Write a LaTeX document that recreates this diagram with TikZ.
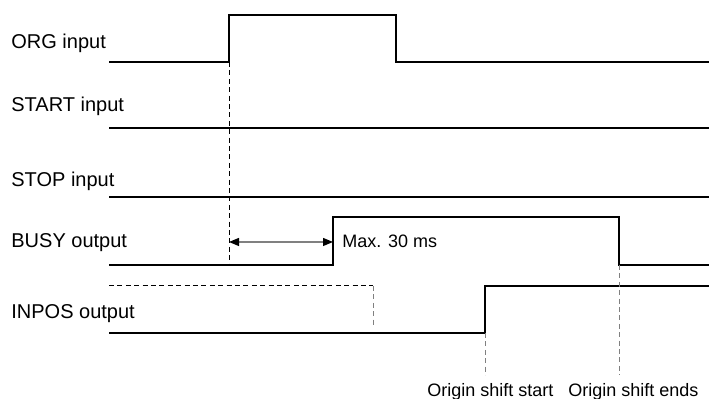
\documentclass[tikz,border=0pt]{standalone}
\usepackage{fontspec}
\setmainfont{Liberation Sans}
\usetikzlibrary{arrows.meta}

\begin{document}
\begin{tikzpicture}[x=0.5pt,y=-0.5pt,
    signal/.style={line width=1.3pt,line join=miter},
    guide/.style={line width=0.5pt,dash pattern=on 2.5pt off 1.7pt},
    lbl/.style={anchor=base west,inner sep=0pt,font=\fontsize{10}{12}\selectfont},
    note/.style={anchor=base west,inner sep=0pt,font=\fontsize{9}{11}\selectfont}]
    \useasboundingbox (0,0) rectangle (709,399);
    % signal names
    \node[lbl] (org) at (11,49) {ORG input};
    \node[lbl] (start) at (11,112) {START input};
    \node[lbl] (stop) at (11,187) {STOP input};
    \node[lbl] (busy) at (11,248) {BUSY output};
    \node[lbl] (inpos) at (11,319) {INPOS output};
    % waveforms
    \draw[signal] (109,62) -- (229,62) -- (229,15) -- (396,15) -- (396,62) -- (709,62);
    \draw[signal] (109,128) -- (709,128);
    \draw[signal] (109,197) -- (709,197);
    \draw[signal] (109,265) -- (333,265) -- (333,217) -- (619,217) -- (619,265) -- (709,265);
    \draw[signal] (109,333) -- (485,333) -- (485,286) -- (709,286);
    % guides
    \draw[guide] (229,62) -- (229,265);
    \draw[guide] (109,286) -- (373,286);
    \draw[guide,gray] (373,286) -- (373,327);
    \draw[guide,gray] (485,333) -- (485,375);
    \draw[guide,gray] (619,265) -- (619,375);
    % delay
    \coordinate (orgup) at (229,242);
    \coordinate (busyup) at (333,242);
    \draw[gray,line width=0.6pt,
        {Triangle[length=5pt,width=4pt,color=black]}-{Triangle[length=5pt,width=4pt,color=black]}]
        (orgup) -- (busyup);
    \node[note] (delay) at (342,248) {Max. 30 ms};
    \node[note] (shiftstart) at (427,397) {Origin shift start};
    \node[note] (shiftend) at (568,397) {Origin shift ends};
\end{tikzpicture}
\end{document}
